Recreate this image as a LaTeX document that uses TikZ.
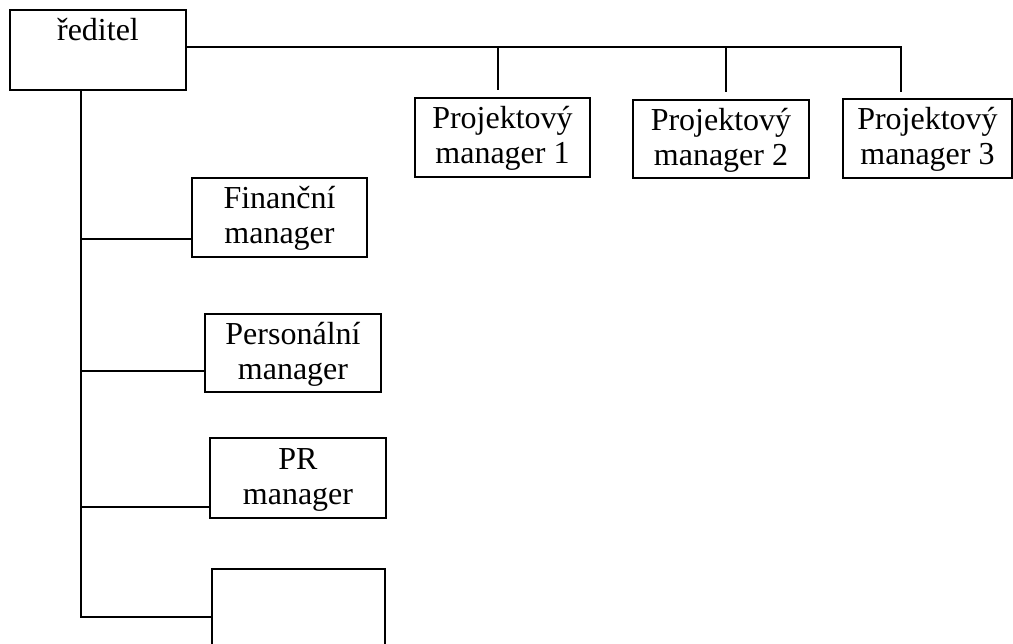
\documentclass[tikz,border=0pt]{standalone}
\usepackage{fontspec}
\setmainfont{Liberation Serif}
\begin{document}
\begin{tikzpicture}[x=1pt,y=-1pt,
  orgbox/.style={draw=black, line width=2.4pt, inner sep=0pt, outer sep=0pt,
    anchor=north west, align=center, font=\fontsize{32}{35}\selectfont,
    minimum width=175pt},
  onel/.style={text height=31pt},
  twol/.style={text height=66pt},
  link/.style={draw=black, line width=1.7pt}]
\useasboundingbox[fill=white] (0,0) rectangle (1013,644);
% boxes
\node[orgbox, onel, minimum width=176pt, minimum height=80pt, text depth=49pt] (dir) at (10,10) {ředitel};
\node[orgbox, twol, minimum width=175pt, minimum height=79pt, text depth=13pt] (pm1) at (415,98) {Projektový\\manager 1};
\node[orgbox, twol, minimum width=176pt, minimum height=78pt, text depth=12pt] (pm2) at (633,100) {Projektový\\manager 2};
\node[orgbox, twol, minimum width=169pt, minimum height=79pt, text depth=13pt] (pm3) at (843,99) {Projektový\\manager 3};
\node[orgbox, twol, minimum width=175pt, minimum height=79pt, text depth=13pt] (fin) at (192,178) {Finanční\\manager};
\node[orgbox, twol, minimum width=176pt, minimum height=78pt, text depth=12pt] (pers) at (205,314) {Personální\\manager};
\node[orgbox, twol, minimum width=176pt, minimum height=80pt, text depth=14pt] (pr) at (210,438) {PR\\manager};
\node[orgbox, minimum width=173pt, minimum height=98pt] (empty) at (212,569) {};
% junction coordinates
\coordinate (h1) at (498,47);
\coordinate (h2) at (726,47);
\coordinate (h3) at (901,47);
\coordinate (t1) at (498,90);
\coordinate (t2) at (726,92);
\coordinate (t3) at (901,92);
\coordinate (v0) at (81,90);
\coordinate (c1) at (81,239);
\coordinate (c2) at (81,371);
\coordinate (c3) at (81,507);
\coordinate (c4) at (81,617);
% connectors
\draw[link] (dir.east |- h1) -- (h3) -- (t3);
\draw[link] (h1) -- (t1);
\draw[link] (h2) -- (t2);
\draw[link] (v0) -- (c4) -- (empty.west |- c4);
\draw[link] (c1) -- (fin.west |- c1);
\draw[link] (c2) -- (pers.west |- c2);
\draw[link] (c3) -- (pr.west |- c3);
\end{tikzpicture}
\end{document}
